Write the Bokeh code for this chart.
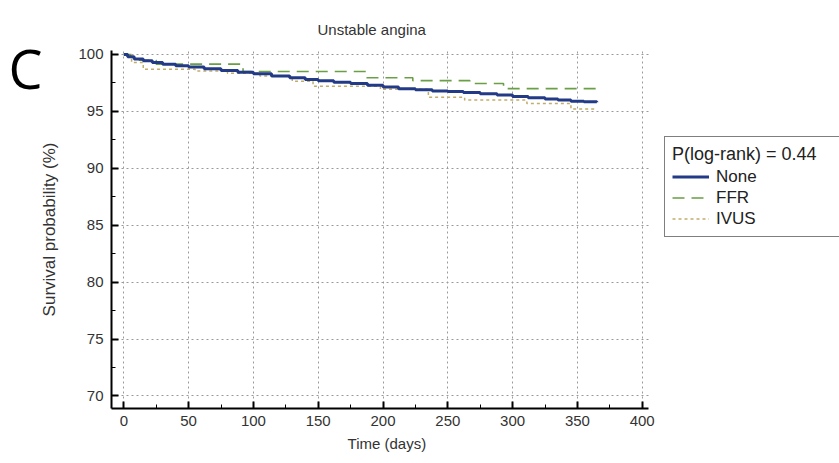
from bokeh.plotting import figure
from bokeh.models import (Range1d, FixedTicker, Legend, LegendItem, Title, LinearAxis)
from bokeh.embed import file_html
from bokeh.resources import INLINE

# ---- data ----
title_text = "Unstable angina"
panel_letter = "C"
x_label = "Time (days)"
y_label = "Survival probability (%)"
legend_title = "P(log-rank) = 0.44"
series_names = ["None", "FFR", "IVUS"]

x_ticks = [0, 50, 100, 150, 200, 250, 300, 350, 400]
x_minor = [25, 75, 125, 175, 225, 275, 325, 375]
y_ticks = [70, 75, 80, 85, 90, 95, 100]
y_minor = [72.5, 77.5, 82.5, 87.5, 92.5, 97.5]

t_none = [0, 3, 8, 15, 22, 30, 40, 50, 62, 75, 88, 100, 114, 128, 140, 150, 162, 175,
          188, 200, 212, 225, 238, 250, 262, 275, 288, 300, 312, 325, 335, 345, 355, 365]
s_none = [100, 99.8, 99.6, 99.45, 99.3, 99.15, 99.0, 98.9, 98.75, 98.6, 98.45, 98.3, 98.1,
          97.95, 97.8, 97.7, 97.55, 97.45, 97.3, 97.15, 97.0, 96.9, 96.8, 96.75, 96.65,
          96.55, 96.45, 96.3, 96.2, 96.1, 96.0, 95.9, 95.85, 95.8]

t_ffr = [0, 5, 12, 25, 92, 187, 223, 267, 293, 365]
s_ffr = [100, 99.8, 99.5, 99.15, 98.5, 97.95, 97.7, 97.45, 97.0, 97.0]

t_ivus = [0, 6, 15, 55, 80, 105, 130, 146, 198, 235, 263, 311, 345, 365]
s_ivus = [100, 99.3, 98.7, 98.55, 98.35, 98.1, 97.65, 97.2, 96.95, 96.25, 96.0, 95.7, 95.2, 95.2]

FONT = "Liberation Sans"

W, H = 839, 463
FRAME_LEFT, FRAME_TOP, FRAME_BOTTOM = 111, 50, 408
X_LO, X_AXIS_END = -9.5, 405
PX_PER_DAY = 1.296
X_HI = X_LO + (W - FRAME_LEFT) / PX_PER_DAY   # frame runs to the right edge (room for legend)
Y_LO, Y_HI = 68.9, 100.35
X_LABEL_POS = 203          # where the x-axis title is centred (days)
C_CENTER_PX = 67           # vertical centre of the panel letter (pixels from top)

p = figure(width=W, height=H, output_backend="svg", toolbar_location=None,
           x_range=Range1d(X_LO, X_HI), y_range=Range1d(Y_LO, Y_HI),
           min_border_left=FRAME_LEFT, min_border_right=0, min_border_top=FRAME_TOP,
           min_border_bottom=H - FRAME_BOTTOM)
p.outline_line_color = None
p.background_fill_color = "white"
p.border_fill_color = "white"

# axes
for ax, ticks, minor in ((p.xaxis[0], x_ticks, x_minor), (p.yaxis[0], y_ticks, y_minor)):
    ax.ticker = FixedTicker(ticks=ticks, minor_ticks=minor)
    ax.axis_line_color = "black"
    ax.axis_line_width = 2
    ax.major_tick_in = 7
    ax.major_tick_out = 0
    ax.major_tick_line_width = 2
    ax.major_tick_line_color = "black"
    ax.minor_tick_in = 4
    ax.minor_tick_out = 0
    ax.minor_tick_line_color = "black"
    ax.minor_tick_line_width = 1
    ax.major_label_text_font = FONT
    ax.major_label_text_font_size = "15px"
    ax.major_label_text_color = "#333333"
    ax.axis_label_text_font = FONT
    ax.axis_label_text_font_style = "normal"
    ax.axis_label_text_color = "#333333"

p.xaxis.bounds = (X_LO, X_AXIS_END)
p.yaxis.axis_label = y_label
p.yaxis.axis_label_text_font_size = "17px"
p.xaxis.major_label_standoff = 7
p.yaxis.major_label_standoff = 8
p.yaxis.axis_label_standoff = 16

# x-axis title, centred under the drawn axis (second, label-only axis below)
x_title_axis = LinearAxis(ticker=FixedTicker(ticks=[X_LABEL_POS]),
                          major_label_overrides={X_LABEL_POS: x_label},
                          axis_line_color=None, major_tick_line_color=None,
                          minor_tick_line_color=None, major_label_standoff=0,
                          major_label_text_font=FONT, major_label_text_font_size="15px",
                          major_label_text_color="#333333")
p.add_layout(x_title_axis, "below")

# grid
p.xgrid.ticker = FixedTicker(ticks=x_ticks)
p.ygrid.ticker = FixedTicker(ticks=y_ticks)
for g in (p.xgrid[0], p.ygrid[0]):
    g.grid_line_color = "#9a9a9a"
    g.grid_line_dash = "2 3"
    g.grid_line_width = 1
p.ygrid.cross_bounds = (X_LO, X_AXIS_END)

# curves
r_ivus = p.step(t_ivus, s_ivus, mode="after", line_color="#c2ad6a", line_width=1.5,
                line_dash="3 3")
r_ffr = p.step(t_ffr, s_ffr, mode="after", line_color="#6a9f45", line_width=1.6,
               line_dash="12 7")
r_none = p.step(t_none, s_none, mode="after", line_color="#233a86", line_width=3)

legend = Legend(items=[LegendItem(label=series_names[0], renderers=[r_none]),
                       LegendItem(label=series_names[1], renderers=[r_ffr]),
                       LegendItem(label=series_names[2], renderers=[r_ivus])],
                location=(664 - FRAME_LEFT, FRAME_BOTTOM - 237), title=legend_title)
legend.border_line_color = "black"
legend.border_line_width = 1.5
legend.background_fill_alpha = 1
legend.padding = 7
legend.spacing = 0
legend.margin = 0
legend.title_standoff = 1
legend.title_text_font = FONT
legend.title_text_font_size = "18px"
legend.title_text_font_style = "normal"
legend.title_text_color = "#222222"
legend.label_text_font = FONT
legend.label_text_font_size = "17px"
legend.label_text_color = "#222222"
legend.label_height = 21
legend.glyph_height = 21
legend.glyph_width = 37
legend.label_standoff = 7
legend.label_width = 125
p.add_layout(legend)

# title
p.title = Title(text=title_text, align="left", offset=206, standoff=25,
                text_font=FONT, text_font_size="15px", text_font_style="normal",
                text_color="#333333")

# panel letter as a horizontal label in an outer left panel
c_pos = Y_HI - (C_CENTER_PX - FRAME_TOP) * (Y_HI - Y_LO) / (FRAME_BOTTOM - FRAME_TOP)
letter_axis = LinearAxis(ticker=FixedTicker(ticks=[c_pos]),
                         major_label_overrides={c_pos: panel_letter},
                         axis_line_color=None, major_tick_line_color=None,
                         minor_tick_line_color=None, major_label_standoff=-11,
                         major_label_text_font="Open Sans",
                         major_label_text_font_size="54px",
                         major_label_text_color="black")
p.add_layout(letter_axis, "left")

open("out.html", "w").write(file_html(p, INLINE))
